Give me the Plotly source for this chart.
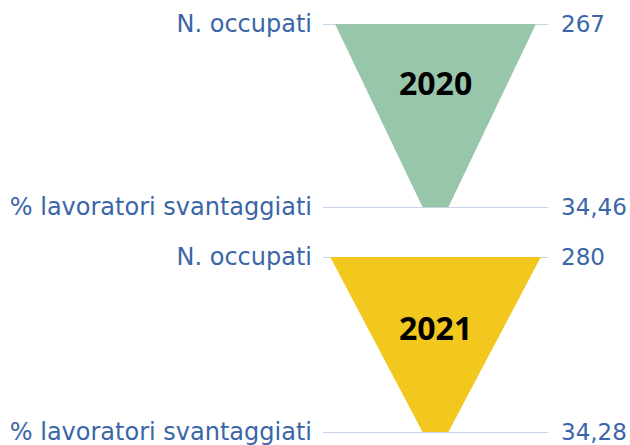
import plotly.graph_objects as go

years = ["2020", "2021"]
categories = ["N. occupati", "% lavoratori svantaggiati"]
occupati = [267, 280]
svantaggiati = [34.46, 34.28]
occupati_labels = ["267", "280"]
svantaggiati_labels = ["34,46", "34,28"]
colors = ["#97c6aa", "#f2c81e"]

W, H = 630, 445
label_color = "#3a66a8"
grid_color = "#c8d5e9"
label_font = "DejaVu Sans"
year_font = "Open Sans"

# pixel positions of the two category lines per panel (top line, bottom line)
panel_px = [(24, 207), (257, 432)]
year_y = [0.68, 0.6]
pad = 0.05

fig = go.Figure()
layout = dict(
    width=W, height=H, margin=dict(l=323, r=82, t=0, b=0, autoexpand=False),
    paper_bgcolor="white", plot_bgcolor="white", showlegend=False,
)
annotations = []
for i, yr in enumerate(years):
    xa = "x" if i == 0 else f"x{i+1}"
    ya = "y" if i == 0 else f"y{2*i+1}"
    ya2 = f"y{2*i+2}"
    top, bot = panel_px[i]
    unit = bot - top
    d0 = 1 - (bot + pad * unit) / H
    d1 = 1 - (top - pad * unit) / H
    a, b = occupati[i] / 2, svantaggiati[i] / 2
    fig.add_trace(go.Scatter(
        x=[-a, a, b, -b, -a], y=[1, 1, 0, 0, 1],
        fill="toself", fillcolor=colors[i], mode="lines",
        line=dict(width=0, color=colors[i]), hoverinfo="skip",
        xaxis=xa, yaxis=ya,
    ))
    fig.add_trace(go.Scatter(x=[0], y=[0.5], mode="markers", marker=dict(opacity=0),
                             xaxis=xa, yaxis=ya2, hoverinfo="skip"))
    xkey = "xaxis" if i == 0 else f"xaxis{i+1}"
    ykey = "yaxis" if i == 0 else f"yaxis{2*i+1}"
    y2key = f"yaxis{2*i+2}"
    layout[xkey] = dict(range=[-149.5, 149.5], domain=[0, 1], anchor=ya,
                        visible=False, fixedrange=True, automargin=False)
    layout[ykey] = dict(range=[-pad, 1 + pad], domain=[d0, d1], anchor=xa,
                        tickvals=[1, 0], ticktext=categories, automargin=False,
                        showgrid=True, gridcolor=grid_color, gridwidth=1,
                        zeroline=False, showline=False, ticks="",
                        ticklabelstandoff=10, ticklabeloverflow="allow",
                        tickfont=dict(family=label_font, size=24, color=label_color))
    layout[y2key] = dict(range=[-pad, 1 + pad], overlaying=ya, anchor=xa, side="right",
                         tickvals=[1, 0], ticktext=[occupati_labels[i], svantaggiati_labels[i]],
                         showgrid=False, zeroline=False, showline=False, ticks="",
                         ticklabelstandoff=12, automargin=False, ticklabeloverflow="allow",
                         tickfont=dict(family=label_font, size=23, color=label_color))
    annotations.append(dict(text=f"<b>{yr}</b>", x=0, y=year_y[i],
                            xref=xa, yref=ya, showarrow=False,
                            font=dict(family=year_font, size=32, color="black")))
layout["annotations"] = annotations
fig.update_layout(**layout)
fig.write_html("out.html", config={"displayModeBar": False},
               post_script="document.body.style.margin='0';")
